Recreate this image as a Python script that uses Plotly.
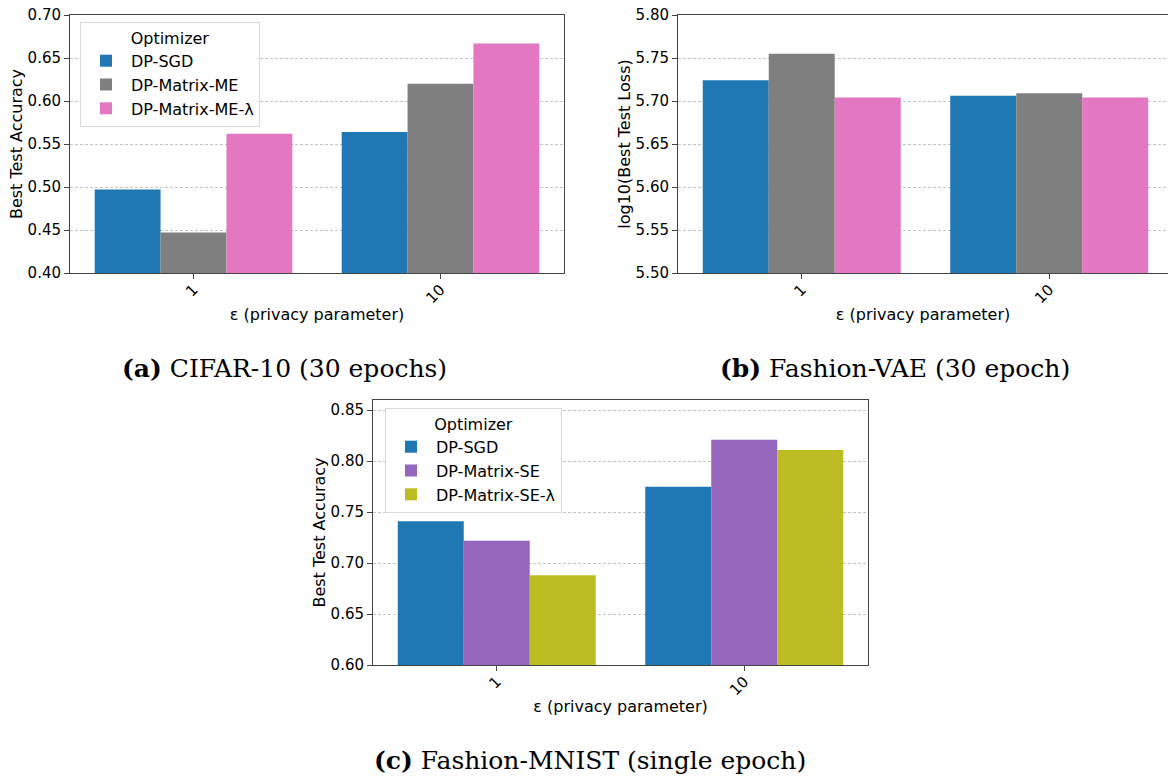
import plotly.graph_objects as go

# ---- data ----
eps_labels = ["1", "10"]

a_series = ["DP-SGD", "DP-Matrix-ME", "DP-Matrix-ME-λ"]
a_values = {
    "DP-SGD": [0.497, 0.564],
    "DP-Matrix-ME": [0.447, 0.620],
    "DP-Matrix-ME-λ": [0.562, 0.667],
}

b_values = {
    "DP-SGD": [5.724, 5.706],
    "DP-Matrix-ME": [5.755, 5.709],
    "DP-Matrix-ME-λ": [5.704, 5.704],
}

c_series = ["DP-SGD", "DP-Matrix-SE", "DP-Matrix-SE-λ"]
c_values = {
    "DP-SGD": [0.741, 0.775],
    "DP-Matrix-SE": [0.722, 0.821],
    "DP-Matrix-SE-λ": [0.688, 0.811],
}

colors = {
    "DP-SGD": "#1f77b4",
    "DP-Matrix-ME": "#7f7f7f",
    "DP-Matrix-ME-λ": "#e377c2",
    "DP-Matrix-SE": "#9467bd",
    "DP-Matrix-SE-λ": "#bcbd22",
}

a_ticks = [0.40, 0.45, 0.50, 0.55, 0.60, 0.65, 0.70]
b_ticks = [5.50, 5.55, 5.60, 5.65, 5.70, 5.75, 5.80]
c_ticks = [0.60, 0.65, 0.70, 0.75, 0.80, 0.85]

W, H = 1168, 778
FONT = "DejaVu Sans"
TICK = 15
LAB = 16

def px_x(p):
    return p / W

def px_y(p):
    return 1 - p / H

fig = go.Figure()

for s in a_series:
    fig.add_trace(go.Bar(x=eps_labels, y=a_values[s], name=s, marker_color=colors[s],
                         marker_line_width=0, xaxis="x", yaxis="y", legend="legend",
                         offsetgroup=s))
for s in a_series:
    fig.add_trace(go.Bar(x=eps_labels, y=b_values[s], name=s, marker_color=colors[s],
                         marker_line_width=0, xaxis="x2", yaxis="y2", showlegend=False,
                         offsetgroup=s))
for s in c_series:
    fig.add_trace(go.Bar(x=eps_labels, y=c_values[s], name=s, marker_color=colors[s],
                         marker_line_width=0, xaxis="x3", yaxis="y3", legend="legend2",
                         offsetgroup=s))

axis_common = dict(
    showline=True, linecolor="#444444", linewidth=1,
    ticks="outside", ticklen=5, tickcolor="#444444",
    tickfont=dict(family=FONT, size=TICK, color="black"),
    zeroline=False, automargin=False,
)
xcommon = dict(axis_common, type="category", range=[-0.5, 1.5], showgrid=False,
               tickangle=-45, ticklabelstandoff=-4,
               title=dict(text="ε (privacy parameter)", font=dict(family=FONT, size=LAB, color="black"),
                          standoff=2))
ycommon = dict(axis_common, showgrid=True, gridcolor="#c4c4c4", griddash="3px,2px", gridwidth=1)

legend_common = dict(
    xanchor="left", yanchor="top",
    bgcolor="white", bordercolor="#d9d9d9", borderwidth=1,
    font=dict(family=FONT, size=LAB, color="black"),
    title=dict(text="Optimizer", side="top center",
               font=dict(family=FONT, size=LAB, color="black")),
    itemwidth=40, tracegroupgap=0,
)

fig.update_layout(
    width=W, height=H,
    margin=dict(l=0, r=0, t=0, b=0),
    paper_bgcolor="white", plot_bgcolor="white",
    barmode="group", bargap=0.2, bargroupgap=0,
    font=dict(family=FONT, size=LAB, color="black"),
    xaxis=dict(xcommon, domain=[px_x(70), px_x(564)], anchor="y", mirror=True),
    yaxis=dict(ycommon, domain=[px_y(273), px_y(15)], anchor="x", mirror=True,
               range=[0.40, 0.70], tickvals=a_ticks, tickformat=".2f",
               title=dict(text="Best Test Accuracy", font=dict(family=FONT, size=LAB, color="black"),
                          standoff=0)),
    xaxis2=dict(xcommon, domain=[px_x(678), 1.0], anchor="y2", mirror=True,
                range=[-0.5, 1.48]),
    yaxis2=dict(ycommon, domain=[px_y(273), px_y(15)], anchor="x2", mirror=False,
                range=[5.50, 5.80], tickvals=b_ticks, tickformat=".2f",
                title=dict(text="log10(Best Test Loss)", font=dict(family=FONT, size=LAB, color="black"),
                           standoff=0)),
    xaxis3=dict(xcommon, domain=[px_x(373), px_x(868)], anchor="y3", mirror=True),
    yaxis3=dict(ycommon, domain=[px_y(665), px_y(400)], anchor="x3", mirror=True,
                range=[0.60, 0.86], tickvals=c_ticks, tickformat=".2f",
                title=dict(text="Best Test Accuracy", font=dict(family=FONT, size=LAB, color="black"),
                           standoff=0)),
    legend=dict(legend_common, x=px_x(80), y=px_y(22)),
    legend2=dict(legend_common, x=px_x(385), y=px_y(408)),
)

SERIF = "DejaVu Serif"
captions = [
    ("<b>(a)</b> CIFAR-10 (30 epochs)", 284, 368),
    ("<b>(b)</b> Fashion-VAE (30 epoch)", 895, 368),
    ("<b>(c)</b> Fashion-MNIST (single epoch)", 590, 760),
]
for text, cx, cy in captions:
    fig.add_annotation(text=text, x=px_x(cx), y=px_y(cy), xref="paper", yref="paper",
                       xanchor="center", yanchor="middle", showarrow=False,
                       font=dict(family=SERIF, size=25, color="black"))

fig.write_html("out.html", config={"displayModeBar": False},
               post_script="document.body.style.margin='0px';")
